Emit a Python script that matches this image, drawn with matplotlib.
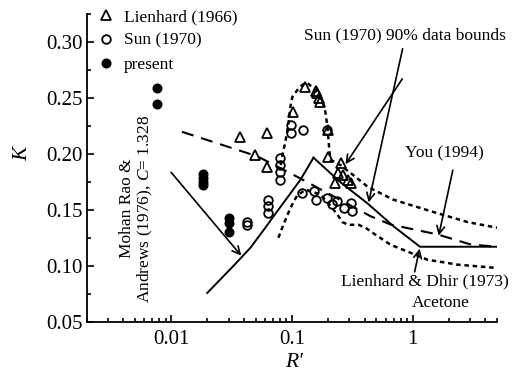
import matplotlib
matplotlib.use("Agg")
import matplotlib.pyplot as plt
from matplotlib.ticker import FixedLocator, FixedFormatter, MultipleLocator, LogLocator, NullFormatter

plt.rcParams['font.family'] = ['Liberation Serif', 'DejaVu Serif']
plt.rcParams['mathtext.fontset'] = 'custom'
plt.rcParams['mathtext.rm'] = 'Liberation Serif'
plt.rcParams['mathtext.it'] = 'Liberation Serif:italic'

# ---- data ----
lienhard_R = [0.0374, 0.0498, 0.0626, 0.0626, 0.103, 0.129, 0.158, 0.163, 0.168, 0.172,
              0.201, 0.201, 0.239, 0.2296, 0.255, 0.267, 0.289, 0.306]
lienhard_K = [0.215, 0.199, 0.219, 0.188, 0.237, 0.260, 0.256, 0.254, 0.250, 0.246,
              0.221, 0.197, 0.183, 0.174, 0.192, 0.181, 0.177, 0.174]

sun_R = [0.0428, 0.0428, 0.0638, 0.0638, 0.0638, 0.0790, 0.0790, 0.0790, 0.0790,
         0.099, 0.099, 0.1245, 0.197, 0.1216, 0.152, 0.157, 0.196, 0.216, 0.237,
         0.269, 0.306, 0.316]
sun_K = [0.139, 0.136, 0.159, 0.153, 0.147, 0.196, 0.190, 0.184, 0.177,
         0.226, 0.219, 0.2215, 0.2215, 0.165, 0.1667, 0.159, 0.1608, 0.1548, 0.1577,
         0.1518, 0.1563, 0.1487]

present_R = [0.00765, 0.00765, 0.01845, 0.01845, 0.01845, 0.01845, 0.0303, 0.0303, 0.0303]
present_K = [0.259, 0.2447, 0.182, 0.178, 0.175, 0.172, 0.143, 0.138, 0.130]

mohan_R = [0.0199, 0.0327, 0.0453, 0.0603, 0.0703, 0.118, 0.151]
mohan_K = [0.0757, 0.0997, 0.116, 0.134, 0.144, 0.177, 0.1966]

dhir_R = [0.151, 0.25, 0.42, 0.70, 1.15, 5.0]
dhir_K = [0.1966, 0.175, 0.156, 0.135, 0.117, 0.117]

you_R = [0.0123, 0.0518, 0.113, 0.448, 0.658, 1.61, 3.03, 5.0]
you_K = [0.2197, 0.1978, 0.179, 0.1443, 0.1368, 0.128, 0.119, 0.117]

sun_up_R = [0.081, 0.0834, 0.0883, 0.0935, 0.0972, 0.101, 0.111, 0.122, 0.1345, 0.1567,
            0.179, 0.190, 0.197, 0.201, 0.205, 0.209, 0.252, 0.336, 0.424, 0.695,
            1.49, 2.86, 5.0]
sun_up_K = [0.190, 0.1987, 0.2107, 0.226, 0.242, 0.251, 0.257, 0.2617, 0.2634, 0.257,
            0.248, 0.2366, 0.224, 0.2125, 0.2018, 0.1947, 0.190, 0.1795, 0.1706, 0.159,
            0.148, 0.139, 0.134]

sun_lo_R = [0.0773, 0.085, 0.0935, 0.103, 0.111, 0.13, 0.17, 0.2, 0.239, 0.262,
            0.294, 0.356, 0.407, 0.466, 0.656, 0.962, 1.33, 2.36, 5.0]
sun_lo_K = [0.125, 0.1366, 0.1473, 0.157, 0.163, 0.168, 0.164, 0.156, 0.1456, 0.139,
            0.1366, 0.1366, 0.134, 0.1295, 0.1188, 0.1116, 0.1054, 0.101, 0.098]

xticks = [0.01, 0.1, 1]
xticklabels = ['0.01', '0.1', '1']
yticks = [0.05, 0.10, 0.15, 0.20, 0.25, 0.30]
yticklabels = ['0.05', '0.10', '0.15', '0.20', '0.25', '0.30']

# ---- figure ----
fig = plt.figure(figsize=(5.14, 3.74), dpi=100)
ax = fig.add_axes([0.1687, 0.1398, 0.967 - 0.1687, 0.9626 - 0.1398])
k = 'black'

ax.plot(mohan_R, mohan_K, color=k, lw=1.4, zorder=2)
ax.plot(dhir_R, dhir_K, color=k, lw=1.4, zorder=2)
ax.plot(you_R, you_K, color=k, lw=1.5, dashes=(5.8, 3.8), zorder=2)
ax.plot(sun_up_R, sun_up_K, color=k, lw=1.8, dashes=(1.8, 1.5), zorder=2)
ax.plot(sun_lo_R, sun_lo_K, color=k, lw=1.8, dashes=(1.8, 1.5), zorder=2)

ax.plot(lienhard_R, lienhard_K, ls='none', marker='^', ms=7.5, mfc='none', mec=k, mew=1.3,
        label='Lienhard (1966)', zorder=3)
ax.plot(sun_R, sun_K, ls='none', marker='o', ms=6.2, mfc='none', mec=k, mew=1.3,
        label='Sun (1970)', zorder=3)
ax.plot(present_R, present_K, ls='none', marker='o', ms=6.2, mfc=k, mec=k,
        label='present', zorder=3)

ax.set_xscale('log')
ax.set_xlim(0.002, 5)
ax.set_ylim(0.05, 0.325)

ax.xaxis.set_major_locator(FixedLocator(xticks))
ax.xaxis.set_major_formatter(FixedFormatter(xticklabels))
ax.xaxis.set_minor_locator(LogLocator(base=10, subs=range(2, 10), numticks=20))
ax.xaxis.set_minor_formatter(NullFormatter())
ax.yaxis.set_major_locator(FixedLocator(yticks))
ax.yaxis.set_major_formatter(FixedFormatter(yticklabels))
ax.yaxis.set_minor_locator(MultipleLocator(0.025))

ax.tick_params(which='both', direction='in', labelsize=15, width=1.2)
ax.tick_params(which='major', length=5)
ax.tick_params(which='minor', length=2.8)
ax.tick_params(axis='x', pad=6)
ax.tick_params(axis='y', pad=3)

for s in ['top', 'right']:
    ax.spines[s].set_visible(False)
for s in ['left', 'bottom']:
    ax.spines[s].set_linewidth(1.3)

ax.set_xlabel('R′', fontsize=15.5, style='italic')
ax.set_ylabel('K', fontsize=15.5, style='italic')
ax.xaxis.label.set_verticalalignment('center')
ax.xaxis.set_label_coords(0.505, -0.134)
ax.yaxis.set_label_coords(-0.133, 0.545)

leg = ax.legend(loc='upper left', bbox_to_anchor=(0.027, 1.017), frameon=False,
                fontsize=12.5, handlelength=1.0, handletextpad=0.5,
                labelspacing=0.45, borderpad=0, borderaxespad=0)

aprops = dict(arrowstyle='->', color=k, lw=1.2, shrinkA=0, shrinkB=0,
              mutation_scale=14)
fs = 12.5

ax.text(0.858, 0.3056, 'Sun (1970) 90% data bounds', fontsize=fs, ha='center', va='center')
ax.annotate('', xy=(0.432, 0.1566), xytext=(0.826, 0.2939), arrowprops=aprops)
ax.annotate('', xy=(0.278, 0.1907), xytext=(0.821, 0.267), arrowprops=aprops)

ax.text(1.843, 0.2005, 'You (1994)', fontsize=fs, ha='center', va='center')
ax.annotate('', xy=(1.644, 0.1269), xytext=(2.15, 0.1853), arrowprops=aprops)

ax.text(1.258, 0.0856, 'Lienhard & Dhir (1973)', fontsize=fs, ha='center', va='center')
ax.text(1.706, 0.0668, 'Acetone', fontsize=fs, ha='center', va='center')
ax.annotate('', xy=(1.143, 0.1153), xytext=(1.039, 0.0946), arrowprops=aprops)

ax.text(0.00522, 0.1512, 'Mohan Rao &\nAndrews (1976), $C$= 1.328', fontsize=fs,
        rotation=90, ha='center', va='center', multialignment='center', linespacing=1.1)
ax.annotate('', xy=(0.0381, 0.109), xytext=(0.01, 0.1835), arrowprops=aprops)

fig.savefig('out.png', dpi=100)
